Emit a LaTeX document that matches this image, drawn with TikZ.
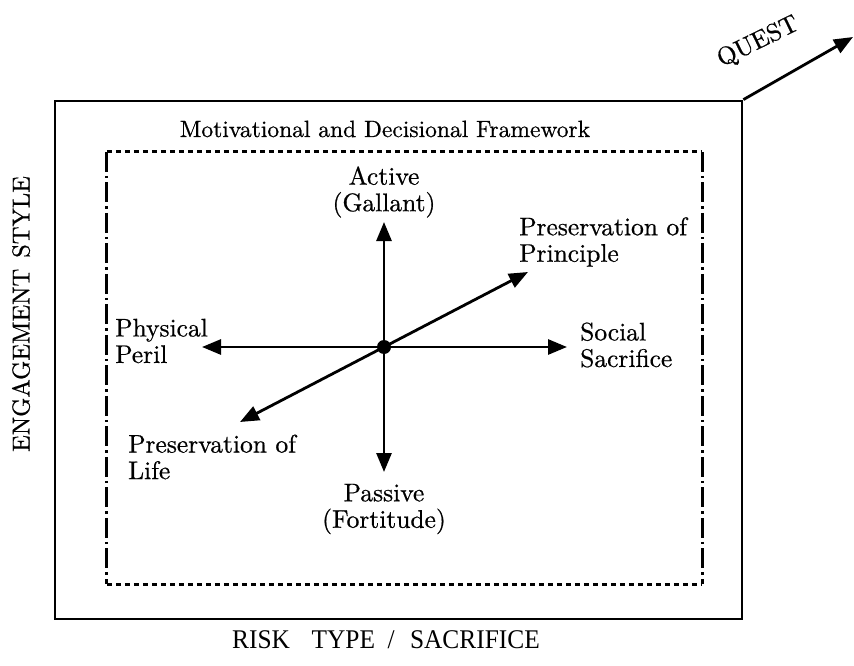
\documentclass[tikz,border=0pt]{standalone}
\usepackage{fontspec}
\newfontfamily\timesfont{Liberation Serif}
\newfontfamily\csfont{lmroman10-regular.otf}[FakeBold=0.6]
\usetikzlibrary{arrows.meta}
\tikzset{
  lbl/.style={font=\csfont\fontsize{25.5}{26.5}\selectfont, inner sep=0pt, align=left},
  clbl/.style={lbl, align=center},
  axisarrow/.style={line width=2.8pt, -{Triangle[length=19pt,width=15pt]}},
  outerbox/.style={draw, line width=2.8pt, inner sep=0pt, minimum width=687pt, minimum height=518pt},
  innerbox/.style={inner sep=0pt, minimum width=595pt, minimum height=432pt},
  dotline/.style={line width=3.4pt, dash pattern=on 5pt off 4pt},
  dashdotline/.style={line width=2.8pt, dash pattern=on 20pt off 4pt on 2.5pt off 4pt},
  centerdot/.style={circle, fill, inner sep=0pt, minimum size=14pt}
}
\begin{document}
\begin{tikzpicture}[x=1pt,y=-1pt]
\useasboundingbox (0,0) rectangle (854,666);
\fill[white] (0,0) rectangle (854,666);

% outer frame and QUEST arrow
\node[outerbox] (outer) at (398.5,360) {};
\coordinate (qtip) at (853,37);
\draw[axisarrow] (outer.north east) -- (qtip);
\node[font=\csfont\fontsize{25}{26}\selectfont, inner sep=0pt, rotate=26, anchor=base] (quest) at (761,48) {QUEST};

% inner framework box
\node[innerbox] (inner) at (404.5,368) {};
\draw[dotline] (inner.north west) -- (inner.north east);
\draw[dotline] (inner.south west) -- (inner.south east);
\draw[dashdotline] (inner.north west) -- (inner.south west);
\draw[dashdotline] (inner.north east) -- (inner.south east);

\node[font=\csfont\fontsize{23.5}{25}\selectfont, inner sep=0pt, anchor=base] (title) at (385,137) {Motivational and Decisional Framework};

% axes
\node[centerdot] (c) at (384,347) {};
\coordinate (up) at (384,222);
\coordinate (down) at (384,472);
\coordinate (left) at (202,347);
\coordinate (right) at (567,347);
\coordinate (ur) at (528,272);
\coordinate (ll) at (240,422);
\draw[axisarrow] (c.center) -- (up);
\draw[axisarrow] (c.center) -- (down);
\draw[axisarrow] (c.center) -- (left);
\draw[axisarrow] (c.center) -- (right);
\draw[axisarrow] (c.center) -- (ur);
\draw[axisarrow] (c.center) -- (ll);

% labels
\node[clbl] (active) at (384,192) {Active\\(Gallant)};
\node[clbl] (passive) at (384,509) {Passive\\(Fortitude)};
\node[lbl, anchor=west] (physical) at (115,341) {Physical\\Peril};
\node[lbl, anchor=west] (social) at (580,345) {Social\\Sacrifice};
\node[lbl, anchor=west] (principle) at (519,242) {Preservation of\\Principle};
\node[lbl, anchor=west] (life) at (128,457) {Preservation of\\Life};

% axis titles
\node[font=\csfont\fontsize{24.5}{26}\selectfont, inner sep=0pt, rotate=90, anchor=base] (engage) at (29.5,314) {ENGAGEMENT\hspace{0.45em}STYLE};
\node[font=\timesfont\fontsize{27}{30}\selectfont, inner sep=0pt, anchor=base] (risk) at (386,648) {\scalebox{0.94}[1]{RISK\hspace{0.85em}TYPE\hspace{0.5em}/\hspace{0.6em}SACRIFICE}};
\end{tikzpicture}
\end{document}
